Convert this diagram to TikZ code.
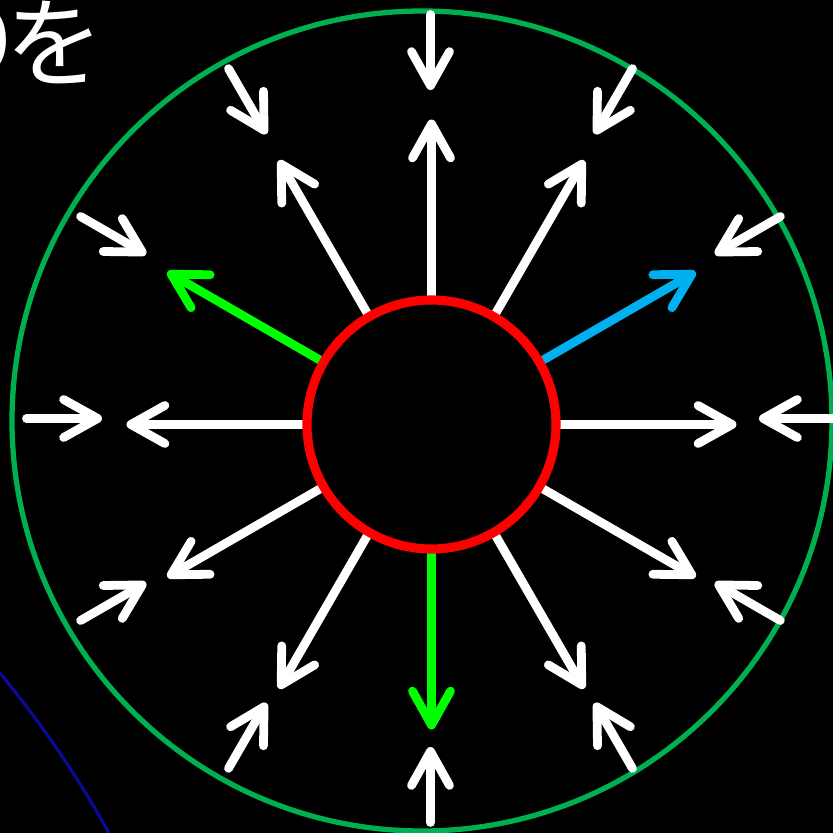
\documentclass[tikz,border=0pt]{standalone}
\usepackage{fontspec}
\newfontfamily\jpfont{Noto Sans CJK JP}
\usetikzlibrary{arrows.meta}
\definecolor{ring}{HTML}{00B050}
\definecolor{core}{HTML}{FF0000}
\definecolor{lime}{HTML}{00FF00}
\definecolor{sky}{HTML}{00B0F0}
\definecolor{orbit}{HTML}{0A0A96}
\tikzset{
  field/.style={
    line width=2.5pt, line cap=round,
    -{Straight Barb[length=3.4mm, width=3.8mm, round]}
  },
  label/.style={
    text=white, inner sep=0pt,
    font=\jpfont\fontsize{28}{28}\selectfont
  }
}
\begin{document}
\begin{tikzpicture}
  \useasboundingbox[fill=black] (0,0) rectangle (8.33,8.33);
  \coordinate (c) at (4.315,4.085);
  \coordinate (ci) at (4.305,4.145);
  \coordinate (o) at (4.22,4.12);
  \draw[orbit, line width=0.9pt] (-0.05,1.66) .. controls (0.35,1.18) and (0.75,0.62) .. (1.10,-0.02);
  \node[label, anchor=base east] (txt) at (1.045,7.535) {り\kern-0.22emを};
  \draw[ring, line width=1.5pt] (o) circle (4.10);
  % outward field
  \foreach \a/\col in {0/white,30/sky,60/white,90/white,120/white,150/lime,
                       180/white,210/white,240/white,270/lime,300/white,330/white}
    \draw[field, \col] ([shift={(\a:1.28)}]c) -- ([shift={(\a:3.05)}]c);
  % inward field
  \foreach \a in {0,30,...,330}
    \draw[field, white] ([shift={(\a:4.04)}]ci) -- ([shift={(\a:3.285)}]ci);
  \draw[core, line width=2.6pt] (c) circle (1.245);
\end{tikzpicture}
\end{document}
